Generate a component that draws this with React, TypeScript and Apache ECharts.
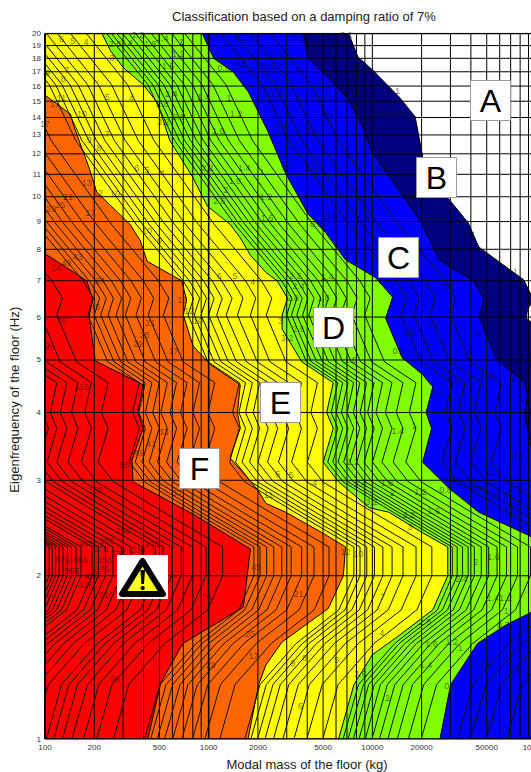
import React, { useEffect, useRef } from "react";
import * as echarts from "echarts";

type P = [number, number];

const massTicks = [100, 200, 500, 1000, 2000, 5000, 10000, 20000, 50000, 100000];
const freqTicks = [1, 2, 3, 4, 5, 6, 7, 8, 9, 10, 11, 12, 13, 14, 15, 16, 17, 18, 19, 20];
const massGrid = [100, 200, 300, 400, 500, 600, 700, 800, 900, 1000, 2000, 3000, 4000, 5000, 6000, 7000, 8000, 9000, 10000, 20000, 30000, 40000, 50000, 60000, 70000, 80000, 90000];
const freqGrid = freqTicks;

// Band limits, [mass kg, frequency Hz]
const limitAB: P[] = [[100, 20], [7170, 20], [8170, 18.1], [10000, 17.15], [14500, 15.3], [18260, 14.05], [20300, 11.85], [28930, 9.95], [38500, 8.95], [44700, 8.08], [46700, 8], [84000, 7.03], [96800, 6.45], [88700, 6.2], [87400, 5.97], [100000, 5.77], [100000, 1], [100, 1]];
const limitBC: P[] = [[100, 20], [3800, 20], [4040, 18], [5160, 16.8], [7170, 15.1], [8770, 13.4], [10000, 12.05], [14500, 10.3], [19700, 9], [23000, 8.2], [25500, 7.65], [41500, 7], [48000, 6.5], [45000, 6], [57700, 5], [85000, 4.55], [88700, 4.3], [85000, 4], [88700, 3.72], [100000, 3.13], [100000, 1], [100, 1]];
const limitCD: P[] = [[100, 20], [915, 20], [1073, 18], [1410, 17], [1750, 15.6], [2300, 13.2], [2950, 11.05], [4040, 9.3], [5160, 8.6], [6860, 7.65], [10430, 7.1], [13300, 6.53], [12060, 5.97], [15200, 5.05], [20300, 4.7], [23400, 4.46], [21300, 4], [23000, 3.74], [20300, 3.24], [29400, 2.9], [44700, 2.62], [88700, 2.38], [100000, 2.33], [100000, 1.73], [64900, 1.62], [43900, 1.5], [30100, 1.26], [25900, 1], [100, 1]];
const limitDE: P[] = [[100, 20], [223, 20], [251, 18.6], [301, 17.3], [398, 16.1], [487, 14.9], [579, 12.7], [794, 10.9], [985, 9.6], [1350, 8.9], [1560, 8.4], [1800, 7.8], [2240, 7.25], [2620, 7], [3030, 6.5], [2810, 6.05], [2810, 5.7], [3710, 4.96], [5770, 4.54], [5260, 4], [5770, 3.74], [5010, 3.24], [6220, 2.98], [9570, 2.67], [12590, 2.62], [20300, 2.4], [28900, 2.26], [28900, 2], [23400, 1.73], [14500, 1.55], [10000, 1.43], [7720, 1.26], [6220, 1], [100, 1]];
const limitEF: P[] = [[100, 15.4], [143, 14.2], [150, 13.5], [186, 11.3], [207, 10.2], [330, 8.9], [382, 8.3], [421, 7.6], [685, 7], [733, 6.45], [700, 6.05], [805, 5.3], [1030, 4.9], [1560, 4.5], [1500, 4], [1560, 3.74], [1350, 3.3], [1995, 2.88], [2240, 2.72], [2950, 2.62], [4950, 2.4], [6860, 2.26], [6650, 2], [5380, 1.74], [2810, 1.51], [2240, 1.37], [2020, 1.26], [1740, 1], [100, 1]];
const limitRed: P[] = [[100, 7.85], [180, 7], [195, 6.5], [186, 6], [203, 4.98], [398, 4.5], [370, 4], [398, 3.74], [340, 3.27], [345, 2.98], [800, 2.6], [1800, 2.24], [1630, 1.75], [695, 1.5], [510, 1.27], [425, 1], [100, 1]];

const bandColors = ["#000080", "#0000ff", "#80ff00", "#ffff00", "#ff6600", "#ff0000"];
const bandLimits = [limitAB, limitBC, limitCD, limitDE, limitEF, limitRed];

// Frequencies at which the contour lines below were read
const contourFreqs = [1, 1.26, 1.5, 1.73, 2, 2.26, 2.62, 2.98, 3.24, 3.74, 4, 4.54, 4.96, 6.05, 6.5, 7, 8.9, 12.7, 16.1, 20];

const blueLines: (number | null)[][] = [
  [66300, 82300, 136700, 250000, 308000, 308000, 134000, 66300, 53400, 61500, 56100, 61500, 39600, 30000, 32300, 27900, 14400, 6180, 4250, 2380],
  [49800, 61800, 102500, 187000, 231000, 231000, 100800, 49800, 40100, 46200, 42100, 46200, 29700, 22500, 24300, 21000, 10800, 4630, 3190, 1790],
  [39800, 49400, 82000, 149800, 185000, 185000, 80600, 39800, 32100, 36900, 33700, 36900, 23700, 18000, 19400, 16800, 8640, 3710, 2550, 1430],
  [33200, 41200, 68300, 124800, 154000, 154000, 67200, 33200, 26700, 30800, 28000, 30800, 19800, 15000, 16200, 14000, 7200, 3090, 2120, 1190],
];
const greenLines: (number | null)[][] = [
  [19900, 24700, 41000, 74900, 92500, 92500, 40300, 19900, 16030, 18460, 16830, 18460, 11870, 8990, 9700, 8380, 4320, 1853, 1274, 714],
  [16600, 20600, 34200, 62400, 77100, 77100, 33600, 16600, 13400, 15400, 14000, 15400, 9890, 7490, 8080, 6980, 3600, 1540, 1060, 595],
  [14200, 17600, 29300, 53500, 66100, 66100, 28800, 14200, 11450, 13190, 12020, 13190, 8480, 6420, 6930, 5990, 3090, 1320, 910, 510],
  [12440, 15440, 25600, 46800, 57800, 57800, 25200, 12440, 10020, 11540, 10520, 11540, 7420, 5620, 6060, 5240, 2700, 1160, 796, 446],
  [11060, 13720, 22800, 41600, 51400, 51400, 22400, 11060, 8900, 10260, 9350, 10260, 6590, 4990, 5390, 4660, 2400, 1030, 708, 397],
  [9950, 12350, 20500, 37500, 46300, 46300, 20150, 9950, 8020, 9230, 8420, 9230, 5940, 4500, 4850, 4190, 2160, 927, 637, 357],
  [9050, 11200, 18600, 34000, 42000, 42000, 18300, 9050, 7290, 8390, 7650, 8390, 5400, 4090, 4410, 3810, 1960, 842, 579, 325],
  [8290, 10300, 17100, 31200, 38500, 38500, 16800, 8290, 6680, 7690, 7010, 7690, 4950, 3750, 4040, 3490, 1800, 772, 531, 298],
  [7650, 9500, 15800, 28800, 35600, 35600, 15500, 7650, 6170, 7100, 6470, 7100, 4570, 3460, 3730, 3220, 1660, 713, 490, 275],
  [7110, 8820, 14600, 26800, 33000, 33000, 14400, 7110, 5730, 6590, 6010, 6590, 4240, 3210, 3460, 2990, 1540, 662, 455, 255],
  [6630, 8230, 13700, 25000, 30800, 30800, 13400, 6630, 5340, 6150, 5610, 6150, 3960, 3000, 3230, 2790, 1440, 618, 425, 238],
];
const yellowLines: (number | null)[][] = [
  [4980, 6180, 10250, 18700, 23100, 23100, 10080, 4980, 4010, 4620, 4210, 4620, 2970, 2250, 2430, 2100, 1080, 463, 319, 179],
  [3980, 4940, 8200, 15000, 18500, 18500, 8060, 3980, 3210, 3690, 3370, 3690, 2370, 1800, 1940, 1680, 864, 371, 255, 143],
  [3320, 4120, 6830, 12500, 15400, 15400, 6720, 3320, 2670, 3080, 2810, 3080, 1980, 1500, 1620, 1400, 720, 309, 212, 119],
  [2840, 3530, 5860, 10700, 13200, 13200, 5760, 2840, 2290, 2640, 2400, 2640, 1700, 1280, 1390, 1200, 617, 265, 182, 102],
  [2490, 3090, 5130, 9360, 11600, 11600, 5040, 2490, 2000, 2310, 2100, 2310, 1480, 1120, 1210, 1050, 540, 232, 159, 89],
  [2210, 2740, 4560, 8320, 10300, 10300, 4480, 2210, 1780, 2050, 1870, 2050, 1320, 999, 1080, 931, 480, 206, 142, 79],
  [1990, 2470, 4100, 7490, 9250, 9250, 4030, 1990, 1600, 1850, 1680, 1850, 1190, 899, 970, 838, 432, 185, 127, 71],
  [1810, 2250, 3730, 6810, 8410, 8410, 3660, 1810, 1460, 1680, 1530, 1680, 1080, 817, 882, 762, 393, 168, 116, 65],
  [1660, 2060, 3420, 6240, 7710, 7710, 3360, 1660, 1340, 1540, 1400, 1540, 989, 749, 808, 698, 360, 154, 106, 60],
];
const orangeLines: (number | null)[][] = [
  [1170, 1450, 2410, 4410, 5440, 5440, 2370, 1170, 943, 1090, 990, 1090, 698, 529, 571, 493, 254, 109, 75],
  [948, 1180, 1950, 3570, 4400, 4400, 1920, 948, 763, 879, 801, 879, 565, 428, 462, 399, 206, 88],
  [796, 988, 1640, 3000, 3700, 3700, 1610, 796, 641, 738, 673, 738, 475, 360, 388, 335, 173, 74],
  [686, 852, 1410, 2580, 3190, 3190, 1390, 686, 553, 637, 580, 637, 409, 310, 334, 289, 149, 64],
  [603, 748, 1240, 2270, 2800, 2800, 1220, 603, 486, 559, 510, 559, 360, 272, 294, 254, 131, 56],
  [538, 668, 1110, 2020, 2500, 2500, 1090, 538, 433, 499, 455, 499, 321, 243, 262, 226, 117, 50],
  [485, 602, 1000, 1830, 2260, 2260, 983, 485, 391, 450, 410, 450, 290, 219, 237, 204, 105, 45],
  [442, 549, 911, 1660, 2060, 2060, 896, 442, 356, 410, 374, 410, 264, 200, 216, 186, 96],
  [406, 504, 837, 1530, 1890, 1890, 822, 406, 327, 377, 343, 377, 242, 183, 198, 171, 88],
];
const redLines: (number | null)[][] = [
  [262, 325, 539, 986, 1217, 1217, 530, 262, 211, 243, 221, 243, 156, 118, 128, 110, 57],
  [207, 257, 427, 780, 964, 964, 420, 207, 167, 192, 175, 192, 124, 94, 101, 87],
  [172, 213, 353, 646, 797, 797, 347, 172, 138, 159, 145, 159, 102, 78],
  [146, 182, 301, 551, 680, 680, 296, 146, 118, 136, 124, 136, 87],
  [128, 158, 263, 480, 593, 593, 258, 128, 103, 118, 108, 118, 76],
  [113, 140, 233, 426, 526, 526, 229, 113, 91, 105, 96],
  [102, 126, 209, 382, 472, 472, 206, 102, 82],
  [84, 105, 174, 317, 392, 392, 171, 84],
  [72, 90, 149, 271, 335, 335, 146, 72],
  [null, 78, 130, 237, 293, 293, 128, 63],
  [null, 69, 115, 210, 260, 260, 113, 56],
  [null, 62, 104, 189, 234, 234, 102, 50],
  [null, 57, 94, 172, 212, 212, 92],
  [null, 52, 86, 157, 194, 194, 85],
  [null, null, 74, 135, 166, 166, 72],
  [null, null, 69, 126, 155, 155, 68],
  [null, null, 64, 118, 145, 145, 63],
  [null, null, 61, 111, 137, 137, 60],
  [null, null, 57, 105, 129, 129, 56],
  [null, null, 54, 99, 122, 122, 53],
  [null, null, 52, 94, 116, 116, 51],
  [null, null, 49, 90, 111, 111, 48],
  [null, null, 47, 86, 106, 106, 46],
];

// [printed level, mass kg, frequency Hz]
const contourLabels: [string, number, number][] = [
  ["6", 126, 19.5], ["5", 148, 19.4], ["4", 178, 19.3], ["2.2", 370, 19.85], ["2.6", 268, 19.1], ["2.4", 315, 19.2], ["1.8", 440, 19.1], ["1.4", 520, 19.6], ["1", 680, 19.3], ["1.2", 650, 18.3], ["1.6", 565, 17.4], ["3", 257, 18],
  ["9", 104, 16.9], ["7", 136, 17.1], ["8", 129, 16.5], ["5", 240, 15.3], ["4", 336, 15.2], ["11", 126, 15.2], ["13", 115, 14.8], ["10", 168, 14.2], ["17", 100, 13.6], ["7", 240, 13.05], ["8", 214, 12.3], ["9", 186, 12.7],
  ["6", 365, 11.3], ["5", 420, 11.2], ["4", 520, 11.05], ["13", 180, 10.6], ["12", 211, 10.15], ["10", 268, 10.1], ["21", 138, 10], ["25", 124, 9.65], ["29", 109, 9.5], ["17", 189, 9.35],
  ["3.2", 527, 13.75], ["2.6", 655, 14], ["2.8", 520, 14.85], ["2.4", 590, 15.5], ["1.4", 925, 15.3], ["1", 1330, 15.2], ["1.2", 1470, 14.2], ["1.8", 1145, 13.2], ["1.4", 1650, 11.3], ["1.8", 1450, 10.7], ["2", 1275, 10.3], ["2.2", 980, 11.3], ["2.6", 1160, 9.8],
  ["0.7", 1065, 19.6], ["0.5", 1585, 19.6], ["0.6", 1585, 17.6], ["0.8", 1230, 17.3], ["10", 420, 8.65], ["9", 500, 8.3], ["1", 2120, 11.1], ["1.2", 2240, 10], ["1.6", 2270, 9.15],
  ["0.2", 3540, 19.6], ["0.1", 6950, 19.9], ["0.3", 2620, 18.2], ["0.4", 2320, 17.4], ["0.1", 13500, 15.7], ["0.2", 6450, 15.4], ["0.3", 5300, 14.1], ["0.4", 4260, 13.2], ["0.5", 2550, 15.5], ["0.6", 2810, 13.4], ["0.5", 4260, 11.3], ["0.7", 3070, 11.3], ["0.2", 11550, 11.3], ["0.3", 9190, 9.9], ["0.4", 8870, 9.1], ["0.6", 5620, 9.2], ["0.8", 4550, 8.9], ["0.1", 39300, 8.5],
  ["2.2", 3380, 7.15], ["2.4", 3540, 6.85], ["2.8", 3260, 6.5], ["1.8", 5010, 6.5], ["1.4", 5300, 7.1], ["3", 2750, 5.9], ["2.6", 3540, 5.7], ["3.2", 3010, 5.5], ["0.8", 14500, 5.2], ["0.6", 17100, 5.6], ["0.4", 23400, 5.8], ["0.3", 28900, 6.85], ["0.2", 46700, 5.6], ["0.1", 70900, 7.25], ["1.6", 7350, 5],
  ["0.5", 31600, 4.6], ["0.7", 25500, 4.35], ["0.3", 50100, 4.67], ["0.2", 78000, 4.62], ["0.4", 41800, 3.9], ["1.4", 14300, 3.7], ["1", 18000, 3.77], ["0.2", 78000, 3.33], ["0.3", 55000, 3.1], ["0.6", 30100, 3.02], ["0.5", 44700, 2.89], ["0.8", 28000, 2.88], ["0.4", 62000, 2.82], ["1.2", 19700, 2.86], ["1.8", 12300, 2.97], ["2", 13300, 2.84], ["2.4", 8400, 2.95], ["2.2", 7600, 3.24], ["5", 3200, 3.07], ["6", 2640, 3.08], ["4", 4450, 2.97], ["11", 2320, 2.82], ["3.2", 9900, 2.74], ["1.6", 23700, 2.63],
  ["56", 118, 7.4], ["49", 135, 7.55], ["43", 158, 7.75], ["37", 215, 7], ["45", 203, 6.25], ["76", 126, 5.9], ["96", 106, 5.3], ["116", 168, 4.45], ["21", 440, 5.85], ["25", 405, 5.55], ["29", 370, 5.35], ["17", 610, 5.2], ["13", 690, 6.45], ["12", 760, 6.15], ["10", 860, 5.9], ["6", 1160, 7.15], ["5", 1450, 7.15], ["4", 1860, 6.95],
  ["33", 530, 3.68], ["41", 445, 3.5], ["49", 375, 3.37], ["56", 304, 3.2], ["136", 203, 2.88], ["37", 640, 2.84],
  ["256", 300, 2.42], ["296", 240, 2.32], ["476", 180, 2.29], ["376", 218, 2.24], ["336", 280, 2.19], ["356", 230, 2.14], ["396", 223, 2.06], ["556", 145, 2.04], ["456", 194, 2], ["436", 176, 1.92], ["316", 236, 1.84], ["236", 370, 2.23], ["176", 450, 2.29], ["656", 165, 2.14], ["676", 128, 2.14],
  ["76", 965, 1.83], ["45", 1950, 2.08], ["25", 1790, 1.56], ["17", 1880, 1.42], ["29", 1030, 1.37], ["96", 268, 1.29],
  ["12", 6860, 2.21], ["10", 8200, 2.19], ["21", 3540, 1.85], ["7", 11550, 1.83], ["4", 11400, 1.57], ["9", 3260, 1.38], ["8", 3850, 1.41], ["5", 6030, 1.4], ["6", 3640, 1.15], ["3.6", 8450, 1.32], ["2", 12400, 1.19], ["3", 17000, 2.46], ["3.2", 16700, 2.59],
  ["2.8", 21000, 1.64], ["2.4", 35000, 1.97], ["1.6", 55000, 2.17], ["2", 43000, 2.12], ["1.4", 54500, 1.82], ["1.2", 65000, 1.82], ["1.4", 21300, 1.37], ["1.6", 23000, 1.5], ["1.2", 30600, 1.51], ["1", 34500, 1.47], ["0.8", 30000, 1.25], ["0.6", 48500, 1.37], ["0.5", 42000, 1.09], ["0.4", 52000, 1.09], ["0.2", 84000, 1.34], ["0.7", 63000, 1.62], ["1", 65700, 1.72],
];

const classBoxes: [string, number, number][] = [["A", 470, 80], ["B", 416, 157], ["C", 378, 237], ["D", 313, 307], ["E", 260, 382], ["F", 179, 448]];

const FONT = "'Liberation Sans', Arial, sans-serif";

export default function App() {
  const ref = useRef<HTMLDivElement>(null);
  useEffect(() => {
    if (!ref.current) return;
    const chart = echarts.init(ref.current, undefined, { renderer: "svg" });

    const bandSeries = bandLimits.map((limit, b) => ({
      type: "custom",
      silent: true,
      data: limit,
      encode: { x: 0, y: 1 },
      clip: true,
      renderItem: (params: any, api: any) => {
        if (params.dataIndex !== 0) return null;
        return {
          type: "polygon",
          shape: { points: limit.map((p) => api.coord(p)) },
          style: { fill: bandColors[b], stroke: "#000", lineWidth: 1 },
        };
      },
    }));

    const straight = (data: P[], width: number) => ({
      type: "line",
      silent: true,
      symbol: "none",
      data,
      lineStyle: { color: "#000", width },
    });
    const gridSeries = [
      ...massGrid.map((m) => straight([[m, 1], [m, 20]], m === 100 ? 2 : m === 1000 ? 1.6 : 1)),
      ...freqGrid.map((f) => straight([[100, f], [100000, f]], f === 1 || f === 20 ? 1.5 : 1)),
    ];

    const allLines = [...blueLines, ...greenLines, ...yellowLines, ...orangeLines, ...redLines];
    const contourSeries = allLines.map((line) => ({
      type: "line",
      silent: true,
      symbol: "none",
      clip: true,
      data: line.map((m, i) => (m == null ? null : [m, contourFreqs[i]])).filter(Boolean),
      lineStyle: { color: "#111", width: 1 },
    }));

    const labelSeries = {
      type: "scatter",
      silent: true,
      symbolSize: 1,
      itemStyle: { color: "transparent" },
      data: contourLabels.map(([t, m, f]) => ({ name: t, value: [m, f] })),
      label: {
        show: true,
        position: "inside",
        formatter: "{b}",
        fontFamily: FONT,
        fontSize: 9,
        color: "rgba(20,20,0,0.75)",
      },
    };

    const boxes = classBoxes.flatMap(([t, x, y]) => [
      { type: "rect", z: 100, shape: { x: x + 0.5, y: y + 0.5, width: 40, height: 40 }, style: { fill: "#fff", stroke: "#9a9a9a", lineWidth: 1 } },
      { type: "text", z: 101, x: x + 20.5, y: y + 21, style: { text: t, fill: "#000", fontFamily: FONT, fontSize: 32, align: "center", verticalAlign: "middle" } },
    ]);

    const warning = [
      { type: "rect", z: 100, shape: { x: 117, y: 555, width: 51, height: 44 }, style: { fill: "#fff" } },
      { type: "polygon", z: 101, shape: { points: [[142.5, 561], [122, 594], [163, 594]] }, style: { fill: "#ffff20", stroke: "#000", lineWidth: 6, lineJoin: "round" } },
      { type: "polygon", z: 102, shape: { points: [[140.4, 570], [145, 570], [144, 584], [141.4, 584]] }, style: { fill: "#000" } },
      { type: "circle", z: 102, shape: { cx: 142.7, cy: 588, r: 2.1 }, style: { fill: "#000" } },
    ];

    chart.setOption({
      animation: false,
      backgroundColor: "#fff",
      title: {
        text: "Classification based on a damping ratio of 7%",
        left: 172,
        top: 10,
        padding: 0,
        textStyle: { fontFamily: FONT, fontSize: 13, fontWeight: "normal", color: "#222" },
      },
      grid: { left: 45, top: 33.5, width: 491, height: 705.5, show: false, outerBoundsMode: "none" },
      xAxis: {
        type: "log",
        logBase: 10,
        min: 100,
        max: 100000,
        splitLine: { show: false },
        minorSplitLine: { show: false },
        axisTick: { show: false },
        axisLine: { show: false },
        name: "Modal mass of the floor (kg)",
        nameLocation: "middle",
        nameGap: 19,
        nameTextStyle: { fontFamily: FONT, fontSize: 13, color: "#222", padding: [0, 0, 0, 33] },
        axisLabel: {
          customValues: massTicks,
          formatter: (v: number) => String(Math.round(v)),
          margin: 4,
          fontFamily: FONT,
          fontSize: 8,
          color: "#333",
        },
      },
      yAxis: {
        type: "log",
        logBase: 10,
        min: 1,
        max: 20,
        splitLine: { show: false },
        minorSplitLine: { show: false },
        axisTick: { show: false },
        axisLine: { show: false },
        name: "Eigenfrequency of the floor (Hz)",
        nameLocation: "middle",
        nameGap: 16,
        nameTextStyle: { fontFamily: FONT, fontSize: 13.2, color: "#222", padding: [0, 27, 0, 0] },
        axisLabel: {
          customValues: freqTicks,
          formatter: (v: number) => String(Math.round(v)),
          margin: 4,
          fontFamily: FONT,
          fontSize: 8,
          color: "#333",
        },
      },
      series: [...bandSeries, ...gridSeries, ...contourSeries, labelSeries],
      graphic: [...boxes, ...warning],
    });
    return () => chart.dispose();
  }, []);
  return <div ref={ref} style={{ position: "absolute", left: 0, top: 0, width: 531, height: 772 }} />;
}
